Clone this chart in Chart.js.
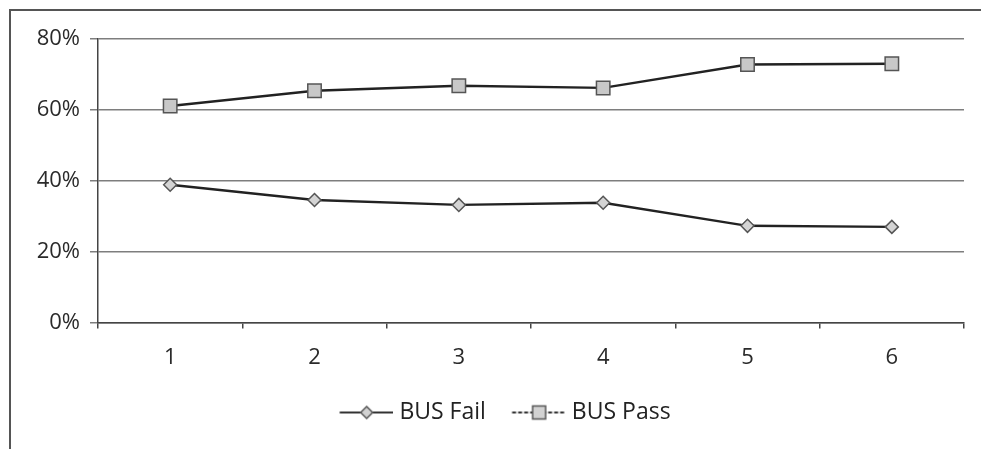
<!DOCTYPE html>
<html>
<head>
<meta charset="utf-8">
<script src="https://cdn.jsdelivr.net/npm/chart.js@4/dist/chart.umd.min.js"></script>
<style>
  html, body { margin: 0; padding: 0; background: #fff; }
  #wrap { width: 981px; height: 449px; position: relative; }
</style>
</head>
<body>
<div id="wrap"><canvas id="c"></canvas></div>
<script>
// Categories and series (percent)
const categories = ['1', '2', '3', '4', '5', '6'];
const busFail = [38.9, 34.6, 33.2, 33.8, 27.3, 27.0];
const busPass = [61.1, 65.4, 66.8, 66.2, 72.8, 73.0];
const yTicks = [0, 20, 40, 60, 80];

Chart.defaults.font.family = "'Open Sans', 'DejaVu Sans', sans-serif";
Chart.defaults.font.size = 22;
Chart.defaults.color = '#2a2a2a';

// Legend swatch: line with marker (Excel style), with a transparent
// left margin so the swatch sits close to its label text
const SWATCH_MARGIN = 13.5;
function legendSymbol(shape, dashed) {
  const m = SWATCH_MARGIN;
  const c = document.createElement('canvas');
  c.width = 54 + m; c.height = 18;
  const g = c.getContext('2d');
  g.strokeStyle = '#333';
  g.lineWidth = 2;
  if (dashed) g.setLineDash([4, 2]);
  g.beginPath(); g.moveTo(m, 9); g.lineTo(m + 54, 9); g.stroke();
  g.setLineDash([]);
  g.fillStyle = '#d2d2d2';
  g.strokeStyle = '#555';
  g.lineWidth = 1.5;
  g.beginPath();
  const cx = m + 27;
  if (shape === 'diamond') {
    g.moveTo(cx, 3); g.lineTo(cx + 6, 9); g.lineTo(cx, 15); g.lineTo(cx - 6, 9); g.closePath();
  } else {
    g.rect(cx - 6.5, 2.5, 13, 13);
  }
  g.fill(); g.stroke();
  return c;
}
const symbols = [legendSymbol('diamond', false), legendSymbol('square', true)];

// Outer frame (top and left edges)
const framePlugin = {
  id: 'frame',
  beforeDraw(chart) {
    const ctx = chart.ctx;
    ctx.save();
    ctx.fillStyle = '#fff';
    ctx.fillRect(0, 0, chart.width, chart.height);
    ctx.strokeStyle = '#555';
    ctx.lineWidth = 2;
    ctx.beginPath();
    ctx.moveTo(10, chart.height);
    ctx.lineTo(10, 10);
    ctx.lineTo(chart.width, 10);
    ctx.stroke();
    ctx.restore();
  }
};

// Nudge the legend: a little right (under the plot area) and up
const legendShift = {
  id: 'legendShift',
  afterLayout(chart) {
    const lg = chart.legend;
    if (lg) {
      lg.left += 19;
      lg.right += 19;
      lg.top -= 4;
      lg.bottom -= 4;
    }
  }
};

new Chart(document.getElementById('c'), {
  type: 'line',
  data: {
    labels: categories,
    datasets: [
      {
        label: 'BUS Fail',
        data: busFail,
        borderColor: '#222',
        borderWidth: 2.4,
        tension: 0,
        pointStyle: 'rectRot',
        pointRadius: 6.5,
        pointBackgroundColor: '#d4d4d4',
        pointBorderColor: '#555',
        pointBorderWidth: 1.5
      },
      {
        label: 'BUS Pass',
        data: busPass,
        borderColor: '#222',
        borderWidth: 2.4,
        tension: 0,
        pointStyle: 'rect',
        pointRadius: 9.5,
        pointBackgroundColor: '#c8c8c8',
        pointBorderColor: '#555',
        pointBorderWidth: 1.5
      }
    ]
  },
  options: {
    responsive: true,
    maintainAspectRatio: false,
    animation: false,
    layout: { padding: { top: 39, right: 17, left: 0, bottom: 11 } },
    scales: {
      x: {
        offset: true,
        grid: {
          drawOnChartArea: false,
          offset: true,
          tickLength: 6,
          color: '#444',
          lineWidth: 1.5
        },
        border: { color: '#444', width: 1.5 },
        ticks: { padding: 16, color: '#2a2a2a' }
      },
      y: {
        min: 0,
        max: 80,
        afterBuildTicks(scale) { scale.ticks = yTicks.map(v => ({ value: v })); },
        afterFit(scale) { scale.width = 98; },
        grid: {
          color: '#7e7e7e',
          lineWidth: 1.5,
          tickLength: 8
        },
        border: { color: '#444', width: 1.5 },
        ticks: {
          padding: 10,
          color: '#2a2a2a',
          callback: v => v + '%'
        }
      }
    },
    plugins: {
      tooltip: { enabled: false },
      legend: {
        position: 'bottom',
        labels: {
          usePointStyle: true,
          pointStyleWidth: 56.5,
          padding: 18,
          color: '#222',
          font: { size: 23 },
          generateLabels(chart) {
            const items = Chart.defaults.plugins.legend.labels.generateLabels(chart);
            items.forEach((it, i) => { it.pointStyle = symbols[i]; });
            return items;
          }
        }
      }
    }
  },
  plugins: [framePlugin, legendShift]
});
</script>
</body>
</html>
